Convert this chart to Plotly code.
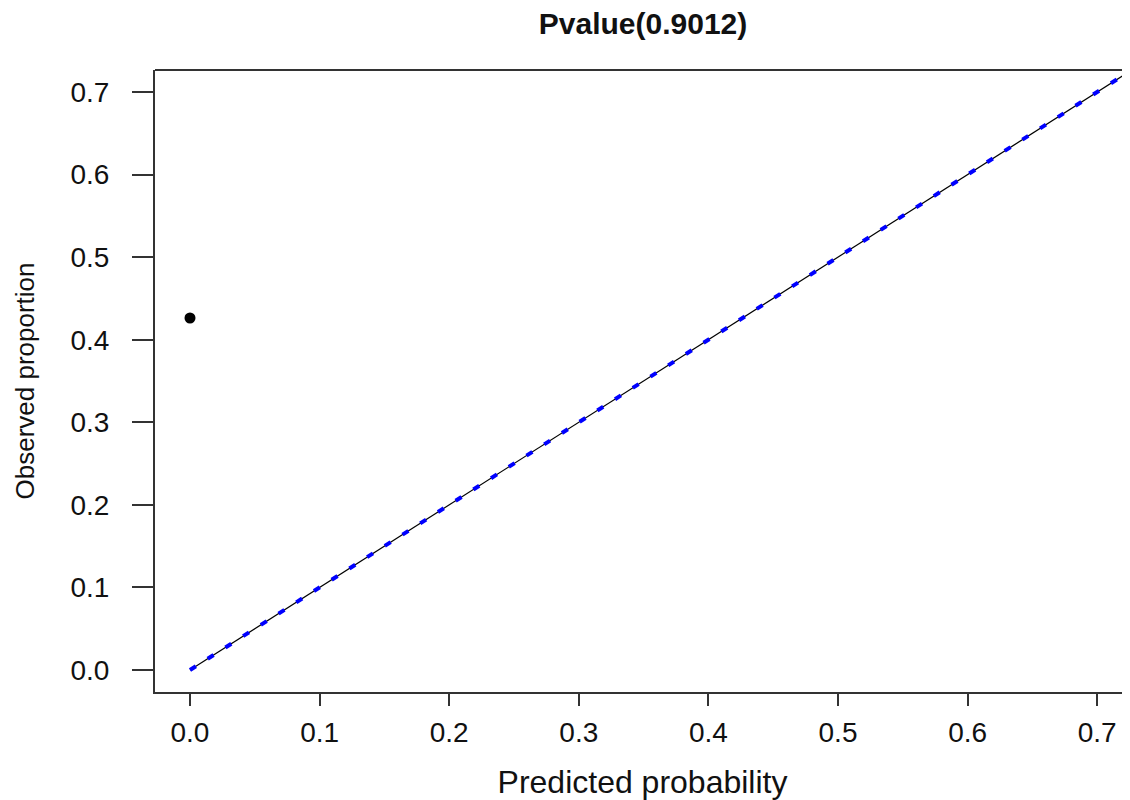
import plotly.graph_objects as go

# Data
calib_x = [0.0, 0.74]          # calibration curve (blue dotted)
calib_y = [0.0, 0.74]
ideal_x = [0.0, 0.74]          # ideal reference line
ideal_y = [0.0, 0.74]
obs_x = [0.0]                  # observed group point
obs_y = [0.4263]
x_ticks = [0.0, 0.1, 0.2, 0.3, 0.4, 0.5, 0.6, 0.7]
y_ticks = [0.0, 0.1, 0.2, 0.3, 0.4, 0.5, 0.6, 0.7]
title_text = "Pvalue(0.9012)"

FONT = "Liberation Sans, Arial, sans-serif"

fig = go.Figure()
fig.add_trace(go.Scatter(x=ideal_x, y=ideal_y, mode="lines",
                         line=dict(color="black", width=1.2),
                         showlegend=False, hoverinfo="skip"))
fig.add_trace(go.Scatter(x=calib_x, y=calib_y, mode="lines",
                         line=dict(color="#0000FF", width=4, dash="7px,14px"),
                         showlegend=False))
fig.add_trace(go.Scatter(x=obs_x, y=obs_y, mode="markers",
                         marker=dict(color="black", size=11),
                         showlegend=False))

fig.update_layout(
    width=1122, height=792,
    margin=dict(l=147, r=0, t=62, b=108),
    paper_bgcolor="white", plot_bgcolor="white",
    font=dict(family=FONT, color="#111111"),
    title=dict(text="<b>" + title_text + "</b>", x=0.566, xanchor="center",
               y=0.981, yanchor="middle", font=dict(size=30, family=FONT, color="#111111")),
    shapes=[dict(type="line", xref="paper", yref="paper", x0=0, x1=1, y0=1, y1=1,
                 line=dict(color="#333333", width=2))],
)
fig.update_xaxes(
    range=[-0.0270, 0.7253], tickvals=x_ticks, ticktext=[f"{v:.1f}" for v in x_ticks],
    showgrid=False, zeroline=False, showline=True, linecolor="#333333", linewidth=2,
    ticks="outside", ticklen=12, tickwidth=2, tickcolor="#333333",
    tickfont=dict(size=28, family=FONT), ticklabelstandoff=2,
    title=dict(text="Predicted probability", font=dict(size=32, family=FONT), standoff=29),
)
fig.update_yaxes(
    range=[-0.0266, 0.7266], tickvals=y_ticks, ticktext=[f"{v:.1f}" for v in y_ticks],
    showgrid=False, zeroline=False, showline=True, linecolor="#333333", linewidth=2,
    ticks="outside", ticklen=21, tickwidth=2, tickcolor="#333333",
    tickfont=dict(size=28, family=FONT), ticklabelstandoff=17,
    title=dict(text="Observed proportion", font=dict(size=26, family=FONT), standoff=28),
)

fig.write_html("out.html")
